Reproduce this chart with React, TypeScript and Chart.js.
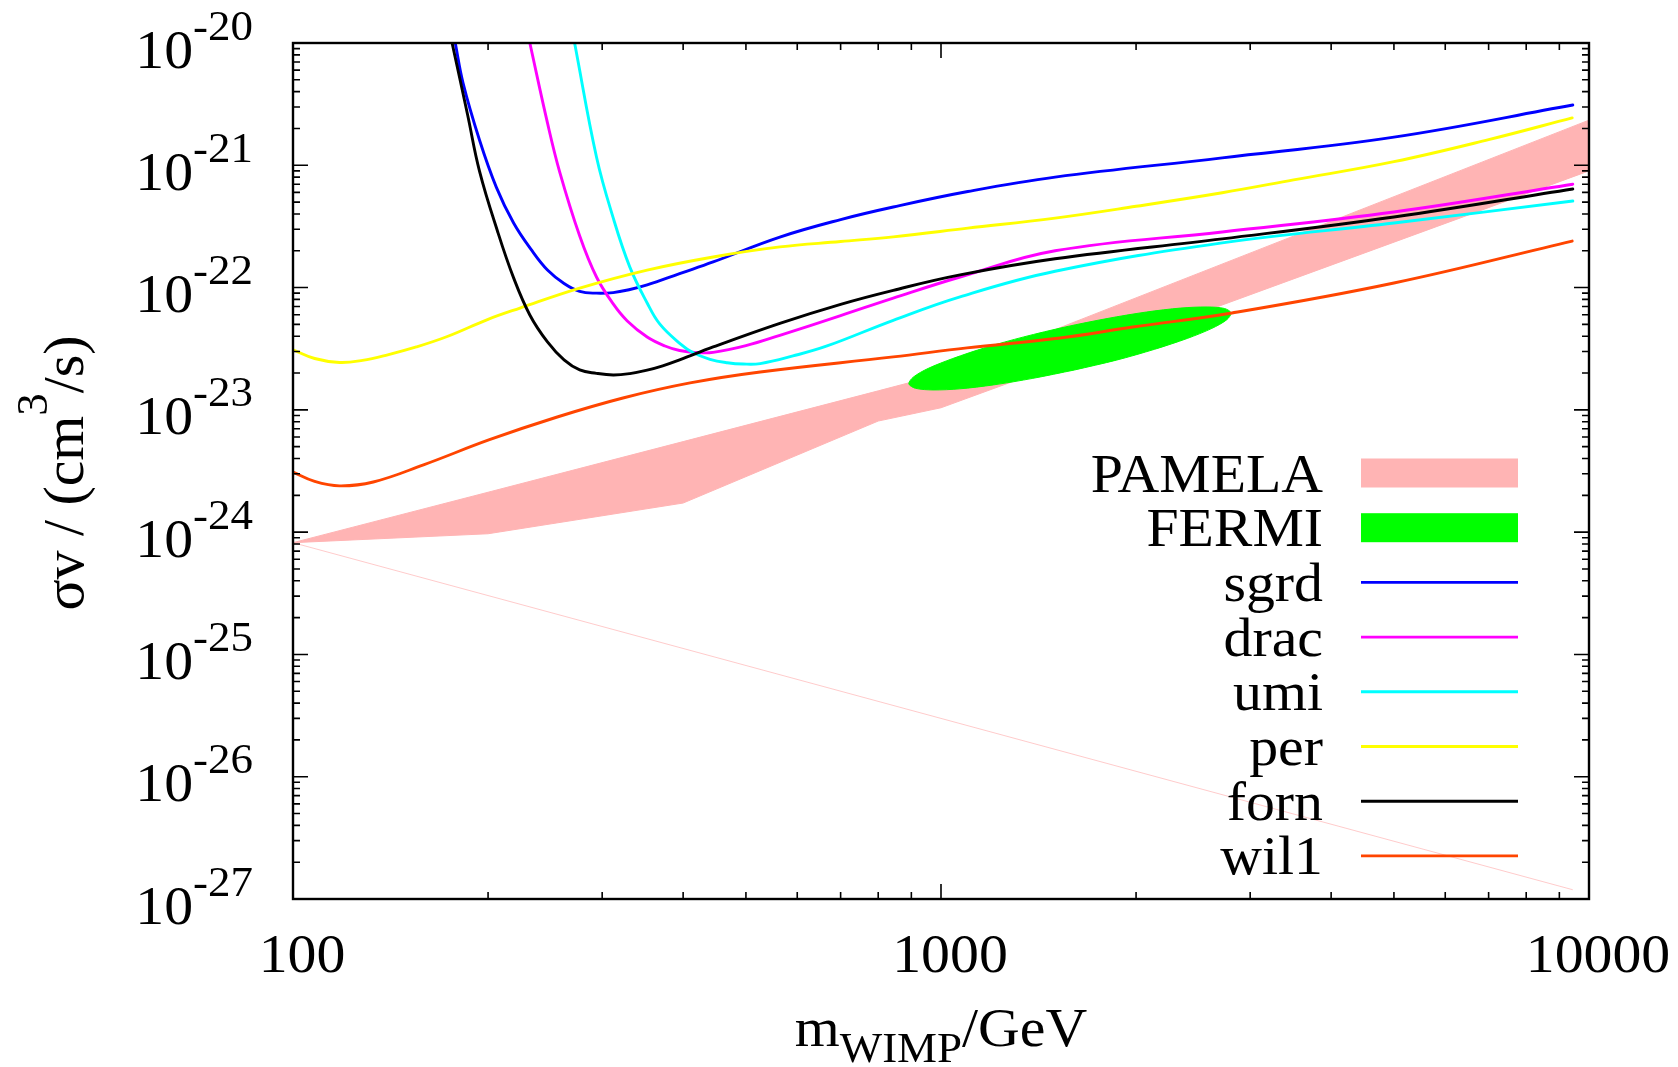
import React, { useEffect, useRef } from 'react';
import { Chart, registerables } from 'chart.js';

Chart.register(...registerables);

// ---------- data (mass in GeV, sigma v in cm^3/s) ----------
const massSgrd = [178, 183, 194, 206, 219, 233, 247, 262, 277, 294, 312, 330, 352, 395, 445, 564, 700, 844, 1100, 1500, 2716, 5000, 9440];
const sigmaSgrd = [1e-20, 4.7e-21, 1.61e-21, 6.6e-22, 3.37e-22, 2.05e-22, 1.39e-22, 1.08e-22, 9.3e-23, 9.0e-23, 9.1e-23, 9.6e-23, 1.05e-22, 1.3e-22, 1.62e-22, 2.59e-22, 3.6e-22, 4.56e-22, 6.1e-22, 8.0e-22, 1.15e-21, 1.7e-21, 3.11e-21];

const massDrac = [232, 247, 258, 277, 294, 312, 328, 352, 375, 395, 420, 445, 500, 564, 700, 844, 1070, 1500, 2716, 5000, 9440];
const sigmaDrac = [1e-20, 2.22e-21, 8.8e-22, 2.64e-22, 1.22e-22, 7.35e-23, 5.33e-23, 3.94e-23, 3.33e-23, 3.06e-23, 2.94e-23, 2.95e-23, 3.35e-23, 4.07e-23, 5.9e-23, 8.2e-23, 1.22e-22, 2.0e-22, 2.85e-22, 4.15e-22, 7.0e-22];

const massUmi = [272, 294, 312, 331, 352, 368, 396, 414, 440, 468, 495, 526, 591, 667, 844, 1070, 1500, 2716, 5000, 9440];
const sigmaUmi = [1e-20, 1.17e-21, 3.71e-22, 1.47e-22, 7.48e-23, 5.04e-23, 3.46e-23, 2.94e-23, 2.59e-23, 2.43e-23, 2.37e-23, 2.39e-23, 2.76e-23, 3.33e-23, 5.4e-23, 8.4e-23, 1.36e-22, 2.32e-22, 3.37e-22, 5.1e-22];

const massPer = [100, 108, 118, 128, 140, 155, 173, 200, 224, 277, 352, 445, 564, 700, 844, 1100, 1500, 2000, 2716, 3500, 5000, 7000, 9420];
const sigmaPer = [3.1e-23, 2.63e-23, 2.44e-23, 2.54e-23, 2.82e-23, 3.27e-23, 3.98e-23, 5.5e-23, 6.8e-23, 9.9e-23, 1.39e-22, 1.78e-22, 2.15e-22, 2.38e-22, 2.6e-22, 3.06e-22, 3.7e-22, 4.62e-22, 5.96e-22, 7.59e-22, 1.07e-21, 1.62e-21, 2.44e-21];

const massForn = [176, 186, 194, 207, 219, 232, 247, 262, 277, 294, 312, 331, 352, 372, 395, 445, 564, 700, 844, 1070, 1500, 2716, 5000, 9440];
const sigmaForn = [1e-20, 2.58e-21, 8.97e-22, 2.85e-22, 1.2e-22, 5.97e-23, 3.59e-23, 2.56e-23, 2.12e-23, 1.99e-23, 1.93e-23, 1.98e-23, 2.11e-23, 2.29e-23, 2.56e-23, 3.27e-23, 5.1e-23, 7.3e-23, 9.5e-23, 1.27e-22, 1.72e-22, 2.5e-22, 3.78e-22, 6.4e-22];

const massWil1 = [100, 108, 118, 133, 159, 201, 255, 323, 410, 526, 844, 1097, 1527, 1977, 2812, 5000, 9420];
const sigmaWil1 = [3.1e-24, 2.6e-24, 2.39e-24, 2.57e-24, 3.55e-24, 5.7e-24, 8.7e-24, 1.25e-23, 1.66e-23, 2.04e-23, 2.71e-23, 3.21e-23, 3.87e-23, 4.76e-23, 6.2e-23, 1.09e-22, 2.4e-22];

// PAMELA band
const massPamela = [100, 200, 400, 800, 1000, 10000];
const pamelaLower = [8.2e-25, 9.7e-25, 1.73e-24, 8.1e-24, 1.04e-23, 9.0e-22];
const pamelaUpper = [8.2e-25, 2.12e-24, 5.5e-24, 1.43e-23, 1.95e-23, 2.34e-21];

// thin pink line
const massThin = [100, 9440];
const sigmaThin = [8.2e-25, 1.19e-27];

// FERMI region outline (read around the ellipse)
const massFermi = [1608, 1386, 1205, 1068, 972, 914, 892, 906, 955, 1043, 1171, 1342, 1555, 1804, 2075, 2344, 2574, 2737, 2803, 2761, 2619, 2400, 2137, 1865, 1608];
const sigmaFermi = [2.12e-23, 1.81e-23, 1.6e-23, 1.485e-23, 1.455e-23, 1.5e-23, 1.63e-23, 1.85e-23, 2.18e-23, 2.63e-23, 3.23e-23, 3.95e-23, 4.76e-23, 5.58e-23, 6.31e-23, 6.8e-23, 6.94e-23, 6.75e-23, 6.21e-23, 5.46e-23, 4.64e-23, 3.84e-23, 3.13e-23, 2.55e-23, 2.12e-23];

// axes
const xMin = 100;
const xMax = 10000;
const yMinExp = -27;
const yMaxExp = -20;
const xTickValues = [100, 1000, 10000];
const xTickLabels = ['100', '1000', '10000'];
const yTickExps = [-20, -21, -22, -23, -24, -25, -26, -27];

// legend
const legendLabels = ['PAMELA', 'FERMI', 'sgrd', 'drac', 'umi', 'per', 'forn', 'wil1'];

const COL = {
  sgrd: '#0000ff',
  drac: '#ff00ff',
  umi: '#00ffff',
  per: '#ffff00',
  forn: '#000000',
  wil1: '#ff4500',
  pamela: '#ffb4b4',
  fermi: '#00ff00',
};
const legendColors = [COL.pamela, COL.fermi, COL.sgrd, COL.drac, COL.umi, COL.per, COL.forn, COL.wil1];

const FONT = '"Liberation Serif", "Times New Roman", serif';
const HS = 1.07;
const LW = 2.9;

function pts(xs: number[], ys: number[]) {
  return xs.map((x, i) => ({ x, y: ys[i] }));
}

type Seg = { t: string; size: number; dy?: number };

function drawRich(ctx: CanvasRenderingContext2D, segs: Seg[], x: number, y: number, align: string, sx = HS, sy = 1) {
  let w = 0;
  for (const s of segs) {
    ctx.font = `${s.size}px ${FONT}`;
    w += ctx.measureText(s.t).width * sx;
  }
  let cx = align === 'right' ? x - w : align === 'center' ? x - w / 2 : x;
  for (const s of segs) {
    ctx.font = `${s.size}px ${FONT}`;
    const sw = ctx.measureText(s.t).width * sx;
    ctx.save();
    ctx.translate(cx, y + (s.dy || 0) * sy);
    ctx.scale(sx, sy);
    ctx.textAlign = 'left';
    ctx.textBaseline = 'alphabetic';
    ctx.fillStyle = '#000';
    ctx.fillText(s.t, 0, 0);
    ctx.restore();
    cx += sw;
  }
}

const decor = {
  id: 'gnuplotDecor',
  afterDraw(chart: any) {
    const ctx: CanvasRenderingContext2D = chart.ctx;
    const { left, right, top, bottom } = chart.chartArea;
    const xs = chart.scales.x;
    const ys = chart.scales.y;
    ctx.save();

    // ticks (inward, mirrored)
    ctx.strokeStyle = '#000';
    ctx.lineWidth = 1.6;
    ctx.beginPath();
    for (let e = yMinExp; e <= yMaxExp; e++) {
      const py = ys.getPixelForValue(Math.pow(10, e));
      ctx.moveTo(left, py); ctx.lineTo(left + 15, py);
      ctx.moveTo(right, py); ctx.lineTo(right - 15, py);
      if (e < yMaxExp) {
        for (let k = 2; k <= 9; k++) {
          const pm = ys.getPixelForValue(k * Math.pow(10, e));
          ctx.moveTo(left, pm); ctx.lineTo(left + 7, pm);
          ctx.moveTo(right, pm); ctx.lineTo(right - 7, pm);
        }
      }
    }
    for (let d = 100; d <= 10000; d *= 10) {
      const px = xs.getPixelForValue(d);
      ctx.moveTo(px, bottom); ctx.lineTo(px, bottom - 15);
      ctx.moveTo(px, top); ctx.lineTo(px, top + 15);
      if (d < 10000) {
        for (let k = 2; k <= 9; k++) {
          const pm = xs.getPixelForValue(k * d);
          ctx.moveTo(pm, bottom); ctx.lineTo(pm, bottom - 7);
          ctx.moveTo(pm, top); ctx.lineTo(pm, top + 7);
        }
      }
    }
    ctx.stroke();

    // frame
    ctx.lineWidth = 2.4;
    ctx.strokeRect(left, top, right - left, bottom - top);

    // y tick labels
    for (const e of yTickExps) {
      const py = ys.getPixelForValue(Math.pow(10, e));
      drawRich(ctx, [{ t: '10', size: 54 }, { t: String(e), size: 42, dy: -28 }], 253, py + 24.5, 'right');
    }
    // x tick labels
    xTickValues.forEach((v, i) => {
      const px = xs.getPixelForValue(v);
      drawRich(ctx, [{ t: xTickLabels[i], size: 54 }], px + 9, 972, 'center');
    });

    // x title
    drawRich(ctx, [{ t: 'm', size: 54 }, { t: 'WIMP', size: 42, dy: 16 }, { t: '/GeV', size: 54 }], (left + right) / 2, 1046, 'center');

    // y title
    ctx.save();
    ctx.translate(83, (top + bottom) / 2 + 2);
    ctx.rotate(-Math.PI / 2);
    drawRich(ctx, [{ t: 'σv / (cm', size: 54 }, { t: '3', size: 42, dy: -34 }, { t: '/s)', size: 54 }], 0, 0, 'center', HS, HS);
    ctx.restore();

    // legend
    const rowH = 54.7;
    const rowC0 = 473;
    const sx0 = 1361;
    const sx1 = 1518;
    legendLabels.forEach((lab, i) => {
      const cy = rowC0 + i * rowH;
      drawRich(ctx, [{ t: lab, size: 54 }], 1323, cy + 18.5, 'right');
      if (i < 2) {
        ctx.fillStyle = legendColors[i];
        ctx.fillRect(sx0, cy - 14.5, sx1 - sx0, 29);
      } else {
        ctx.strokeStyle = legendColors[i];
        ctx.lineWidth = LW;
        ctx.beginPath();
        ctx.moveTo(sx0, cy);
        ctx.lineTo(sx1, cy);
        ctx.stroke();
      }
    });

    ctx.restore();
  },
};

function lineDs(label: string, xs: number[], ys: number[], color: string, order: number) {
  return {
    label,
    data: pts(xs, ys),
    borderColor: color,
    backgroundColor: color,
    borderWidth: LW,
    pointRadius: 0,
    fill: false,
    tension: 0.4,
    borderJoinStyle: 'round',
    borderCapStyle: 'round',
    order,
  };
}

export default function App() {
  const ref = useRef<HTMLCanvasElement | null>(null);
  useEffect(() => {
    document.body.style.margin = '0';
    const canvas = ref.current;
    if (!canvas) return;
    const datasets: any[] = [
      // 0: PAMELA lower
      {
        label: 'PAMELA lower',
        data: pts(massPamela, pamelaLower),
        borderColor: COL.pamela,
        backgroundColor: COL.pamela,
        borderWidth: 1,
        pointRadius: 0,
        fill: false,
        order: 20,
      },
      // 1: PAMELA upper, filled down to lower
      {
        label: 'PAMELA',
        data: pts(massPamela, pamelaUpper),
        borderColor: COL.pamela,
        backgroundColor: COL.pamela,
        borderWidth: 1,
        pointRadius: 0,
        fill: 0,
        order: 19,
      },
      // 2: thin line
      {
        label: 'thin',
        data: pts(massThin, sigmaThin),
        borderColor: 'rgba(255,160,160,0.55)',
        borderWidth: 1,
        pointRadius: 0,
        fill: false,
        order: 21,
      },
      // 3: FERMI
      {
        label: 'FERMI',
        data: pts(massFermi, sigmaFermi),
        borderColor: COL.fermi,
        backgroundColor: COL.fermi,
        borderWidth: 1,
        pointRadius: 0,
        fill: 'shape',
        tension: 0.3,
        order: 15,
      },
      lineDs('sgrd', massSgrd, sigmaSgrd, COL.sgrd, 10),
      lineDs('drac', massDrac, sigmaDrac, COL.drac, 9),
      lineDs('umi', massUmi, sigmaUmi, COL.umi, 8),
      lineDs('per', massPer, sigmaPer, COL.per, 7),
      lineDs('forn', massForn, sigmaForn, COL.forn, 6),
      lineDs('wil1', massWil1, sigmaWil1, COL.wil1, 5),
    ];
    const chart = new Chart(canvas, {
      type: 'line',
      data: { datasets },
      options: {
        responsive: false,
        animation: false,
        devicePixelRatio: 1,
        events: [],
        layout: { padding: { left: 293, right: 89, top: 43, bottom: 168 } },
        plugins: { legend: { display: false }, tooltip: { enabled: false } },
        scales: {
          x: { type: 'logarithmic', min: xMin, max: xMax, display: false },
          y: { type: 'logarithmic', min: Math.pow(10, yMinExp), max: Math.pow(10, yMaxExp), display: false },
        },
        elements: { point: { radius: 0 } },
      } as any,
      plugins: [decor],
    });
    return () => chart.destroy();
  }, []);
  return (
    <div style={{ position: 'absolute', left: 0, top: 0, width: 1678, height: 1067, background: '#fff' }}>
      <canvas ref={ref} width={1678} height={1067} style={{ display: 'block', width: 1678, height: 1067 }} />
    </div>
  );
}
